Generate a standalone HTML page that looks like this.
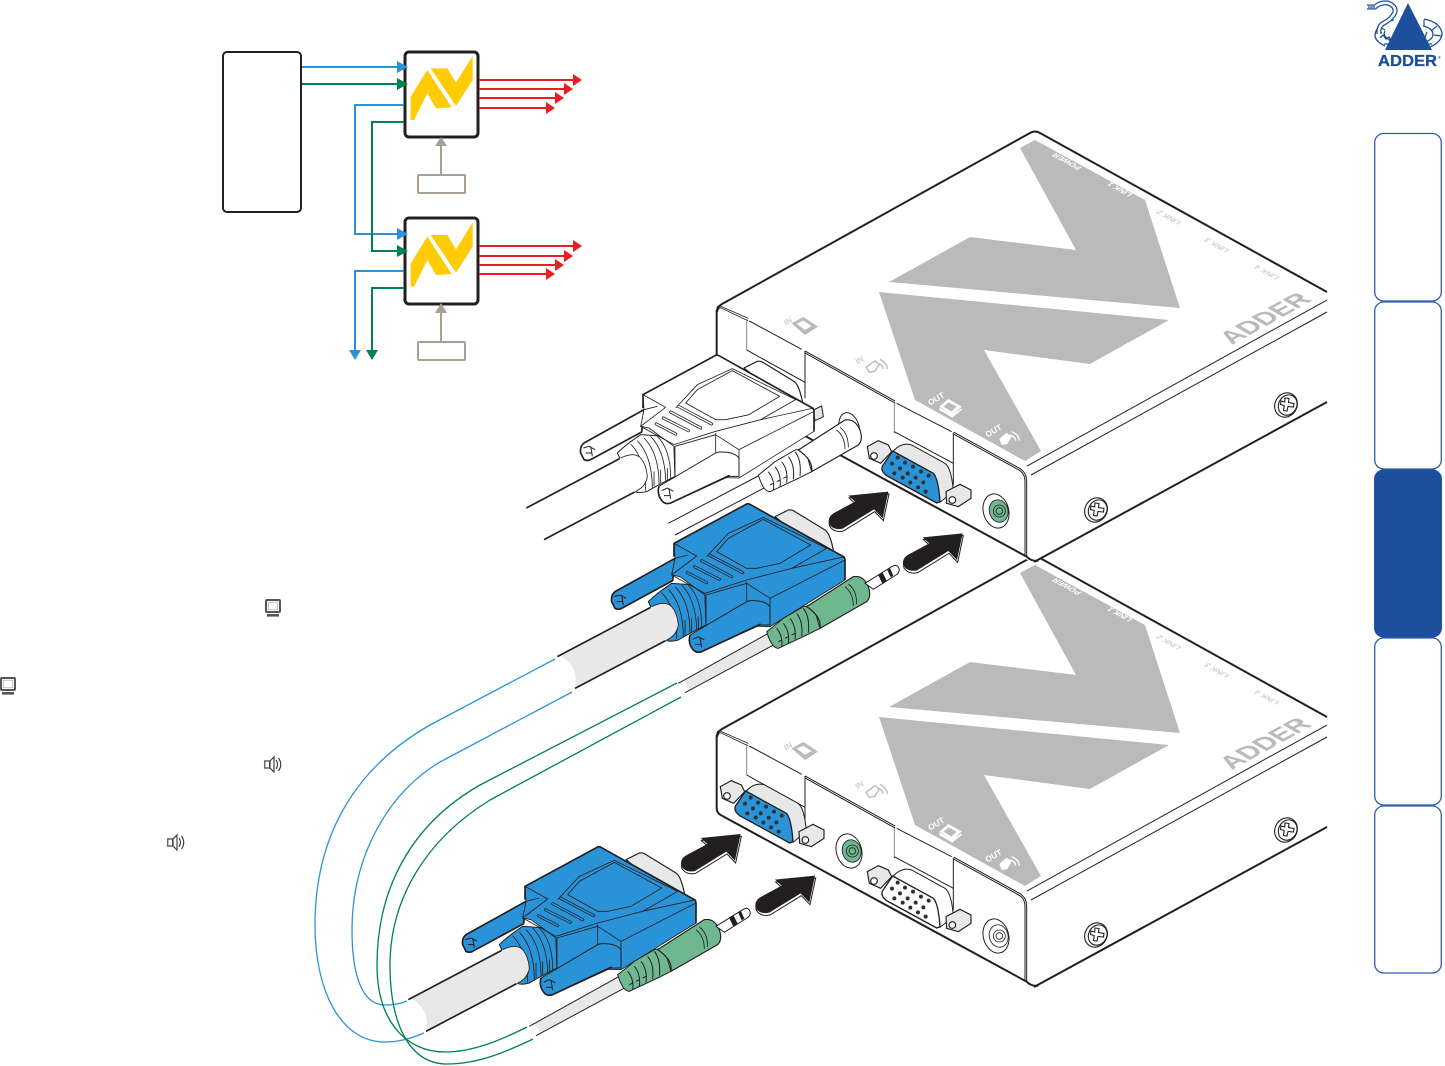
<!DOCTYPE html>
<html><head><meta charset="utf-8"><style>
html,body{margin:0;padding:0;background:#fff;width:1445px;height:1066px;overflow:hidden}
svg{display:block}
text{font-family:"Liberation Sans",sans-serif;font-weight:bold}
</style></head><body>
<svg width="1445" height="1066" viewBox="0 0 1445 1066" xmlns="http://www.w3.org/2000/svg">
<defs>
<g id="logoY" fill="#ffcb05">
<polygon points="602,170 652,90 725,202 678,205 652,160 612,240 602,240"/>
<polygon points="662,85 712,85 738,128 788,48 788,120 738,198"/>
</g>
<g id="mon"><rect x="1" y="1" width="14" height="12" rx="1" fill="#fff" stroke="#555" stroke-width="2"/><rect x="3.200" y="3.200" width="9.600" height="7.600" fill="#fff" stroke="#999" stroke-width=".6"/><rect x="2" y="15" width="12" height="2.600" fill="#555"/></g>
<g id="spk" fill="#fff" stroke="#333" stroke-width="1.100"><rect x=".7" y="5" width="5" height="7" stroke="#666" stroke-width="1.500"/><path d="M6,5 L10,1 V16 L6,12 Z"/><path d="M12,4 Q15,8.500 12,13 M14.500,2 Q19,8.500 14.500,15" fill="none"/></g>

<g id="screw" fill="#fff" stroke="#231f20" stroke-width="1.100">
<ellipse cx="0" cy="0" rx="11" ry="12.500" transform="rotate(30)"/>
<ellipse cx="1.500" cy="-.8" rx="9" ry="10.500" transform="rotate(30)"/>
<path d="M-2,-7 L2,-6.500 L1.500,-2.500 L7,-1.500 L6.500,2 L1,1.500 L0,6 L-3.500,5.500 L-2.800,.5 L-6.500,-.5 L-6,-4 L-2.300,-3 Z" transform="translate(1,0)"/>
</g>

<!-- box top & front, real coordinates -->
<g id="boxBase">
<polygon points="717,312 1035,131 1327,292 1327,402 1033,563 717,387" fill="#fff"/>
<polygon points="1035,140 1145,200 1180,308 889,282 970,237 1076,250 1020,148" fill="#bababa"/>
<polygon points="879,292 1169,320 1090,364 984,350 1041,451 1025,461 915,400" fill="#bababa"/>
<path d="M717,312 Q717,307 722,304 L1030,133 Q1035,130 1040,133 L1327,292" fill="none" stroke="#231f20" stroke-width="2"/>
<path d="M1034,562 L1327,402" fill="none" stroke="#231f20" stroke-width="2"/>
<path d="M1027,466 L1327,300 M1031,475 L1327,312" fill="none" stroke="#231f20" stroke-width="1"/>
<g text-anchor="middle" font-size="8">
<text transform="matrix(-.875 -.485 .85 -.5 1069 160)" fill="#fff">POWER</text>
<text transform="matrix(-.875 -.485 .85 -.5 1122 188)" fill="#fff">LINK 1</text>
<text transform="matrix(-.875 -.485 .85 -.5 1171 216)" fill="#cfcfcf">LINK 2</text>
<text transform="matrix(-.875 -.485 .85 -.5 1219 244)" fill="#cfcfcf">LINK 3</text>
<text transform="matrix(-.875 -.485 .85 -.5 1269 271)" fill="#cfcfcf">LINK 4</text>
</g>
<text transform="matrix(.875 -.484 .85 .5 1232 345)" font-size="26" fill="#bababa">ADDER</text>
<text transform="matrix(.875 -.484 .85 .5 1299 300)" font-size="9" fill="#bababa">®</text>
<use href="#screw" x="1096" y="510"/>
<use href="#screw" x="1286" y="405"/>
<!-- front panel in 3x coordinates -->
<g transform="translate(710,295) scale(.33333)">
<g fill="none" stroke="#231f20">
<path d="M20,45 Q20,33 28,32 L115,70 M24,48 Q24,40 32,38 L115,78" stroke-width="2.500"/>
<path d="M110,72 V165 M553,320 V415" stroke="#888" stroke-width="3"/>
<path d="M118,78 L275,163 M560,325 L725,410" stroke-width="3"/>
<path d="M110,165 L285,262 M553,410 L730,505" stroke-width="3"/>
<path d="M285,168 L555,318 M285,174 L555,324" stroke-width="3"/>
<path d="M285,168 V310 M730,412 V570" stroke-width="3"/>
<path d="M732,412 L925,518 Q950,530 950,560 V785 M732,418 L925,524 Q945,535 945,560 V785" stroke-width="3"/>
<path d="M20,45 V265 Q20,278 32,285 L950,785 Q965,800 985,797" stroke-width="6"/>
</g>
<g fill="#fff">
<text transform="translate(660,332) rotate(-30)" font-size="25">OUT</text>
<polygon points="688,335 715,312 755,335 727,360"/>
<polygon points="700,335 716,322 740,335 724,349" fill="#bababa"/>
<polygon points="688,345 727,368 755,345 755,340 727,358 688,338"/>
<text transform="translate(832,428) rotate(-30)" font-size="25">OUT</text>
<path d="M868,432 L890,413 L905,425 L892,447 L875,450 Z"/>
<path d="M905,410 Q928,420 928,437 M900,420 Q917,425 917,437" fill="none" stroke="#fff" stroke-width="4"/>
</g>
<g fill="#bababa" stroke="none">
<text transform="translate(228,92) rotate(-30)" font-size="24" fill="#cfcfcf">IN</text>
<polygon points="245,85 280,66 324,95 285,120"/>
<polygon points="260,86 280,77 305,93 285,105" fill="#fff"/>
<text transform="translate(442,208) rotate(-30)" font-size="24" fill="#cfcfcf">IN</text>
<path d="M468,217 L495,197 L508,208 L495,228 L478,232 Z" fill="none" stroke="#bababa" stroke-width="4"/>
<path d="M510,193 Q532,205 532,222 M505,205 Q519,210 519,222" fill="none" stroke="#bababa" stroke-width="4"/>
</g>
</g>
</g>

<!-- port group in 3x coords -->
<g id="port">
<path d="M548,470 Q575,440 605,450 L705,505 Q725,520 730,590 L690,622 L530,540 Z" fill="var(--s)" stroke="#231f20" stroke-width="3"/>
<path d="M548,468 L670,535 Q685,550 690,620 L680,624 L530,542 Q510,527 518,512 Z" fill="var(--d)" stroke="#231f20" stroke-width="4"/>
<g fill="#30302f">
<circle cx="563" cy="488" r="6"/><circle cx="585" cy="503" r="6"/><circle cx="609" cy="515" r="6"/><circle cx="633" cy="530" r="6"/><circle cx="656" cy="542" r="6"/>
<circle cx="546" cy="506" r="6"/><circle cx="570" cy="520" r="6"/><circle cx="593" cy="535" r="6"/><circle cx="617" cy="548" r="6"/><circle cx="640" cy="562" r="6"/>
<circle cx="553" cy="535" r="6"/><circle cx="578" cy="548" r="6"/><circle cx="601" cy="563" r="6"/><circle cx="624" cy="577" r="6"/><circle cx="647" cy="590" r="6"/>
</g>
<g fill="#e8e8e8" stroke="#231f20" stroke-width="3.500">
<polygon points="472,455 505,437 535,450 545,470 512,505 478,490"/>
<circle cx="492" cy="483" r="10" fill="#fff"/>
<polygon points="708,590 750,568 783,585 783,610 745,635 710,625"/>
<circle cx="727" cy="615" r="10" fill="#fff"/>
</g>
<ellipse cx="858" cy="648" rx="38" ry="52" transform="rotate(-15 858 648)" fill="#fff" stroke="#231f20" stroke-width="3"/>
<ellipse cx="866" cy="648" rx="28" ry="34" transform="rotate(-15 866 648)" fill="var(--j)" stroke="#231f20" stroke-width="2.500"/>
<circle cx="868" cy="648" r="18" fill="var(--j)" stroke="#231f20" stroke-width="2.500"/>
<circle cx="868" cy="648" r="10" fill="var(--j)" stroke="#231f20" stroke-width="2.500"/>
</g>

<!-- VGA connector in zoom coordinates -->
<g id="vga" stroke="#231f20" stroke-linejoin="round">
<path d="M765,650 L805,630 Q815,628 825,635 L915,690 Q930,700 940,750 L940,790 Z" fill="var(--s)" stroke-width="3.500"/>
<path d="M465,775 L285,875 Q272,885 275,905 L285,925 Q295,930 305,925 L458,842 Z" fill="var(--b)" stroke-width="5"/>
<path d="M283,890 L300,885 L318,895 M290,905 L308,905 M305,885 L310,915" fill="none" stroke-width="3"/>
<!-- boot -->
<path d="M385,905 Q410,880 455,850 L530,855 L555,885 L558,975 L510,1000 L475,1020 Q455,1026 440,1022 Z" fill="var(--b)" stroke-width="3"/>
<g fill="none" stroke-width="2.500">
<path d="M425,878 Q470,925 470,1018 M445,868 Q490,915 490,1012 M465,860 Q510,905 510,998 M485,855 Q528,900 530,988 M505,855 Q545,895 545,980"/>
<path d="M495,960 V1005 M515,955 V995 M535,950 V985"/>
</g>
<!-- cable -->
<path d="M120,1066 Q178,1100 165,1163 L437,1022 Q465,1008 475,975 Q472,940 455,920 Q435,900 385,925 Z" fill="var(--c)" stroke="none"/>
<path d="M395,920 Q435,900 455,920 Q472,940 475,975 Q472,1005 440,1020" fill="none" stroke-width="2.500"/>
<path d="M112,1070 L392,922 M165,1165 L437,1022" fill="none" stroke-width="5"/>
<!-- body -->
<path d="M462,730 L680,612 Q683,610 690,613 L970,770 Q975,773 975,780 L975,840 L750,980 L558,975 L555,885 L480,830 L455,825 L465,775 Z" fill="var(--b)" stroke-width="2.500"/>
<path d="M462,770 V730 L680,612 Q683,610 690,613 L970,770 Q975,773 975,780 V840" fill="none" stroke-width="5"/>
<path d="M510,1005 Q503,1030 520,1050 Q530,1060 545,1055 L720,975 L750,975 L750,920 Q735,900 690,902 L680,905 Z" fill="var(--b)" stroke-width="3"/>
<path d="M510,1005 Q503,1030 520,1050 Q530,1060 545,1055 L722,972" fill="none" stroke-width="5"/>
<path d="M518,1018 L535,1010 L553,1020 M525,1033 L543,1033 M540,1012 L545,1042" fill="none" stroke-width="3"/>
<path d="M558,885 V975 M455,825 L555,880 L680,840 L815,805 L975,770 M558,885 L680,850 L750,895 L975,780 M750,895 V975 M680,845 V903" fill="none" stroke-width="2.500"/>
<path d="M462,730 L530,768 L455,825 M465,775 L505,765" fill="none" stroke-width="2.500"/>
<path d="M560,770 L625,700 L730,652 L920,745 L815,805" fill="none" stroke-width="2.500"/>
<path d="M590,755 L625,715 L730,658 L872,735 L780,790 L710,805 L680,805 Z" fill="var(--b)" stroke-width="2.500"/>
<g stroke-linecap="round" fill="none">
<path d="M568,765 L668,818 M545,782 L635,830 M523,800 L598,838 M502,818 L560,848" stroke-width="9"/>
<path d="M568,765 L668,818 M545,782 L635,830 M523,800 L598,838 M502,818 L560,848" stroke="var(--b)" stroke-width="4.500"/>
</g>
</g>

<g id="jackBody" stroke="#231f20" stroke-linejoin="round">
<path d="M740,995 Q760,980 790,955 L850,920 L880,915 L900,985 L860,1005 L775,1045 Q755,1045 740,995 Z" fill="var(--g)" stroke-width="3"/>
<path d="M860,920 L1000,830 Q1030,825 1045,860 Q1055,890 1040,905 L900,985 Q905,950 860,920 Z" fill="var(--g)" stroke-width="3.500"/>
<path d="M975,860 Q1000,880 1000,918 M985,852 Q1010,870 1010,912" fill="none" stroke-width="2.500"/>
<path d="M770,985 Q790,1010 785,1040 M790,970 Q810,995 805,1030 M810,955 Q830,980 825,1018 M830,940 Q850,965 845,1008 M850,925 Q870,950 865,998" fill="none" stroke-width="3"/>
<path d="M775,1025 L785,1020 M795,1015 L805,1010 M815,1005 L825,1000" stroke-width="3" fill="none"/>
</g>

<g id="arrow">
<path d="M1105,575 L985,587 L1005,605 L940,640 Q922,652 927,672 Q940,692 968,686 L1062,628 L1088,655 Z" transform="translate(2,7)" fill="#fff" stroke="#231f20" stroke-width="3"/>
<path d="M1105,575 L985,587 L1005,605 L940,640 Q922,652 927,672 Q940,692 968,686 L1062,628 L1088,655 Z" fill="#231f20"/>
</g>

<g id="blueVga">
<use href="#vga" style="--b:#2a93d8;--s:#e8e8e8;--c:#e8e8e8"/>
<path d="M490,1143 Q512,1165 503,1175 L770,1030 L745,1000 Z" fill="#e8e8e8"/>
<path d="M475,1150 L745,1000 M495,1178 L770,1030" fill="none" stroke="#231f20" stroke-width="3"/>
<use href="#jackBody" style="--g:#6fb88f"/>
<path d="M1035,850 L1115,800 Q1130,790 1137,805 Q1140,818 1128,825 L1060,868 Z" fill="#fff" stroke="#231f20" stroke-width="3"/>
<path d="M1075,826 L1087,850 L1100,842 L1088,818 Z M1102,810 L1112,832 L1120,827 L1110,804 Z" fill="#231f20"/>
</g>
</defs>

<!-- left diagram -->
<rect x="223" y="52" width="78" height="160" rx="4" fill="#fff" stroke="#231f20" stroke-width="2"/>
<g fill="#fff" stroke="#231f20" stroke-width="3"><rect x="405" y="52" width="73" height="85" rx="4"/><rect x="405" y="218" width="73" height="86" rx="4"/></g>
<g transform="translate(210,40) scale(.33333)"><use href="#logoY"/><use href="#logoY" y="500"/></g>
<g fill="none" stroke-width="2">
<path d="M302,67 H398" stroke="#2a93d8"/>
<path d="M302,84 H398" stroke="#00824f"/>
<path d="M404,105 H355 V234 H398" stroke="#2a93d8"/>
<path d="M404,122 H372 V251 H398" stroke="#00824f"/>
<path d="M404,271 H355 V352" stroke="#2a93d8"/>
<path d="M404,288 H372 V352" stroke="#00824f"/>
<g stroke="#ed1c24">
<path d="M479,80 H574 M479,89 H565 M479,98 H556 M479,108 H547"/>
<path d="M479,246 H574 M479,256 H565 M479,265 H556 M479,274 H547"/>
</g>
<g stroke="#a89e92"><path d="M441,146 V175 M441,313 V342"/>
<rect x="418" y="175" width="47" height="18" rx="1"/><rect x="418" y="342" width="47" height="18" rx="1"/></g>
</g>
<g fill="#2a93d8"><polygon points="397,61 408,67 397,73"/><polygon points="397,228 408,234 397,240"/><polygon points="349,350 361,350 355,360"/></g>
<g fill="#00824f"><polygon points="397,78 408,84 397,90"/><polygon points="397,245 408,251 397,257"/><polygon points="366,350 378,350 372,360"/></g>
<g fill="#ed1c24">
<polygon points="573,74 582,80 573,86"/><polygon points="564,83 573,89 564,95"/><polygon points="555,92 564,98 555,104"/><polygon points="546,102 555,108 546,114"/>
<polygon points="573,240 582,246 573,252"/><polygon points="564,250 573,256 564,262"/><polygon points="555,259 564,265 555,271"/><polygon points="546,268 555,274 546,280"/>
</g>
<g fill="#a89e92"><polygon points="441,137 435,146 447,146"/><polygon points="441,303 435,313 447,313"/></g>

<!-- side icons -->
<use href="#mon" x="265" y="599"/><use href="#mon" x="0" y="677"/>
<use href="#spk" x="264" y="756"/><use href="#spk" x="167" y="834"/>

<!-- Bottom box -->
<g transform="translate(0,425)"><use href="#boxBase"/>
<g transform="translate(710,295) scale(.33333)">
<use href="#port" style="--s:#fff;--d:#fff;--j:#fff"/>
<g transform="translate(-441,-255)"><use href="#port" style="--s:#e8e8e8;--d:#2a93d8;--j:#6fb88f"/></g>
</g></g>
<!-- Top box -->
<use href="#boxBase"/>
<g transform="translate(710,295) scale(.33333)"><use href="#port" style="--s:#e8e8e8;--d:#2a93d8;--j:#6fb88f"/></g>

<!-- connectors -->
<g transform="translate(520,300) scale(.33333)">
<ellipse cx="988" cy="385" rx="30" ry="48" transform="rotate(-15 988 385)" fill="#fff" stroke="#231f20" stroke-width="3"/>
<path d="M445,670 L720,525 M465,705 L755,552" fill="none" stroke="#231f20" stroke-width="3"/>
<path d="M880,330 L905,318 L910,350 L885,362 Z" fill="#e8e8e8" stroke="#231f20" stroke-width="3"/>
<g transform="translate(-93,-446)"><use href="#vga" style="--b:#fff;--s:#fff;--c:#fff"/></g>
<g transform="translate(-25,-470)"><use href="#jackBody" style="--g:#fff"/></g>

<use href="#arrow"/><use href="#arrow" x="223" y="125"/>
<g transform="translate(-443,1027)"><use href="#arrow"/><use href="#arrow" x="223" y="125"/></g>

<use href="#blueVga"/>
<g transform="translate(-447,1029)"><use href="#blueVga"/></g>
</g>

<!-- long cables -->
<g fill="none" stroke-width="1.300">
<path d="M555,659 L430,725 C360,765 315,830 315,925 C315,990 340,1042 385,1042 C400,1042 412,1038 424,1033" stroke="#2a93d8"/>
<path d="M572,692 L440,762 C385,795 352,860 352,930 C352,975 362,1005 385,1005 C392,1005 400,1004 407,1001" stroke="#2a93d8"/>
<path d="M677,683 L480,785 C410,825 377,890 377,965 C377,1020 405,1052 445,1052 C475,1052 505,1038 527,1027" stroke="#00824f"/>
<path d="M681,697 L490,800 C425,840 390,900 390,965 C390,1025 410,1064 447,1064 C480,1064 510,1050 533,1039" stroke="#00824f"/>
</g>

<!-- sidebar tabs -->
<g fill="#fff" stroke="#2f5fab" stroke-width="1.300">
<rect x="1374.700" y="133.500" width="66.600" height="167.500" rx="9"/>
<rect x="1374.700" y="302" width="66.600" height="167" rx="9"/>
<rect x="1374.700" y="470" width="66.600" height="167" rx="9" fill="#1c4f9c" stroke="#1c4f9c"/>
<rect x="1374.700" y="638" width="66.600" height="167" rx="9"/>
<rect x="1374.700" y="806" width="66.600" height="167" rx="9"/>
</g>

<!-- ADDER logo -->
<g fill="none" stroke="#1c4f9c">
<path d="M1385,46 Q1372,40 1376,31 Q1380,22 1394,20 M1424,19 Q1440,22 1442,33 Q1442,42 1430,47" stroke-width="1.300"/>
<path d="M1391,41 Q1382,36 1385,31 M1423,26 Q1433,28 1433,35 Q1432,40 1425,42" stroke-width="1.300"/>
<path d="M1380,38 l3,-3 l3,4 l3,-2 l3,5 l3,-4 l3,5 l3,-5 l3,5 l3,-5 l3,5 l3,-5 l3,5 l3,-5 l3,3 l3,-4 l2,-5" stroke-width="1.300"/>
<path d="M1384,44 L1432,44 M1376,31 L1382,33 M1378,26 L1385,30 M1437,26 L1431,31 M1441,36 L1434,35 M1424,20 L1424,26" stroke-width="1.200"/>
<path d="M1367,7 L1375,7 Q1380,2 1388,3 Q1396,6 1395,12 Q1392,19 1384,23 Q1378,26 1379,34" stroke-width="5"/>
<path d="M1367,7 L1375,7 Q1380,2 1388,3 Q1396,6 1395,12 Q1392,19 1384,23 Q1378,26 1379,34" stroke="#fff" stroke-width="2.500"/>
<path d="M1368,7 L1375,7" stroke-width="1.200"/>
</g>
<polygon points="1408,3 1385,50 1432,50" fill="#1c4f9c"/>
<text x="1378" y="66" font-size="15.500" fill="#1c4f9c" stroke="#1c4f9c" stroke-width=".3" textLength="59" lengthAdjust="spacingAndGlyphs">ADDER</text>
<text x="1438" y="59" font-size="4" fill="#1c4f9c">®</text>
</svg>
</body></html>
